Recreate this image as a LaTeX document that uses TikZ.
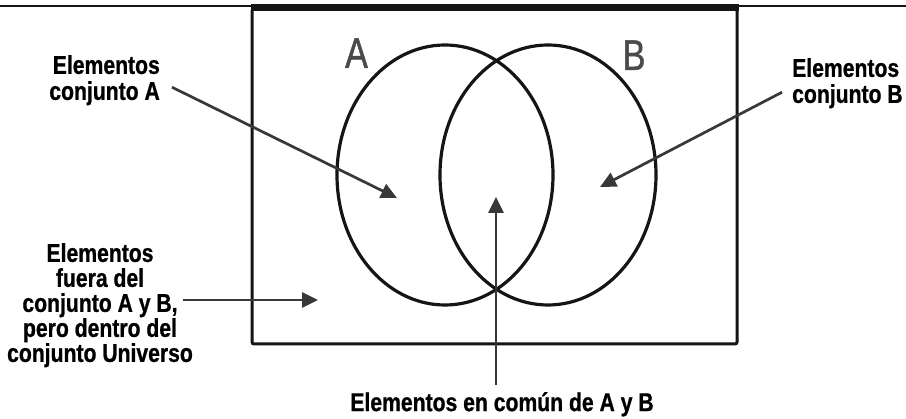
\documentclass[tikz,border=0pt]{standalone}
\usepackage{fontspec}
\setmainfont{Liberation Sans}
\newfontfamily\lblfont[FakeStretch=0.82,FakeBold=0.8]{Liberation Sans}
\newfontfamily\setletterfont[FakeStretch=0.8,FakeBold=1]{Liberation Sans}
\usetikzlibrary{arrows.meta,shapes.geometric,calc}
\definecolor{linedark}{HTML}{151515}
\definecolor{arrowgray}{HTML}{383838}
\definecolor{lettergray}{HTML}{4A4A4A}
\begin{document}
\begin{tikzpicture}[x=1pt,y=-1pt,
  setshape/.style={ellipse, draw=linedark, line width=3.2pt, minimum width=216pt, minimum height=260pt, inner sep=0pt},
  universe/.style={rectangle, draw=linedark, line width=3pt, rounded corners=2pt, minimum width=485pt, minimum height=335pt, inner sep=0pt},
  lbl/.style={font=\lblfont\bfseries\fontsize{25.8}{26}\selectfont, inner sep=0pt, text=black},
  setletter/.style={font=\setletterfont\fontsize{43}{43}\selectfont, text=lettergray, anchor=base, inner sep=0pt},
  arr/.style={draw=arrowgray, line width=2.7pt, -{Triangle[length=16pt,width=15pt]}}]
\useasboundingbox (0,0) rectangle (906,419);
\fill[white] (0,0) rectangle (906,419);
% top rule
\draw[linedark, line width=2.8pt] (0,6) -- (906,6);
\fill[linedark] (250.5,4.5) rectangle (738.5,11);
% universe and sets
\node[universe] (U) at (494.5,176.5) {};
\node[setshape] (setA) at (445,175) {};
\node[setshape] (setB) at (548,175) {};
\node[setletter] (letA) at (356.5,68) {A};
\node[setletter] (letB) at (634,70) {B};
% labels
\node[lbl, align=right, anchor=north east] (labA) at (160,55) {Elementos\\conjunto A};
\node[lbl, align=left, anchor=north west] (labB) at (792,58) {Elementos\\conjunto B};
\node[lbl, align=center, anchor=north, font=\lblfont\bfseries\fontsize{25.8}{25}\selectfont] (labOut) at (100,243) {Elementos\\fuera del\\conjunto A y B,\\pero dentro del\\conjunto Universo};
\node[lbl, anchor=north] (labC) at (502,392) {Elementos en común de A y B};
% arrow tips
\coordinate (tipA) at (397,198);
\coordinate (tipB) at (600,187);
\coordinate (tipOut) at (318,300);
\coordinate (tipC) at (496,197);
% arrows
\draw[arr] ($(labA.east)+(12,7)$) -- (tipA);
\draw[arr] ($(labB.west)+(-10,9)$) -- (tipB);
\draw[arr] ($(labOut.north)+(83,57)$) -- (tipOut);
\draw[arr] ($(labC.north -| tipC)+(0,-7)$) -- (tipC);
\end{tikzpicture}
\end{document}
